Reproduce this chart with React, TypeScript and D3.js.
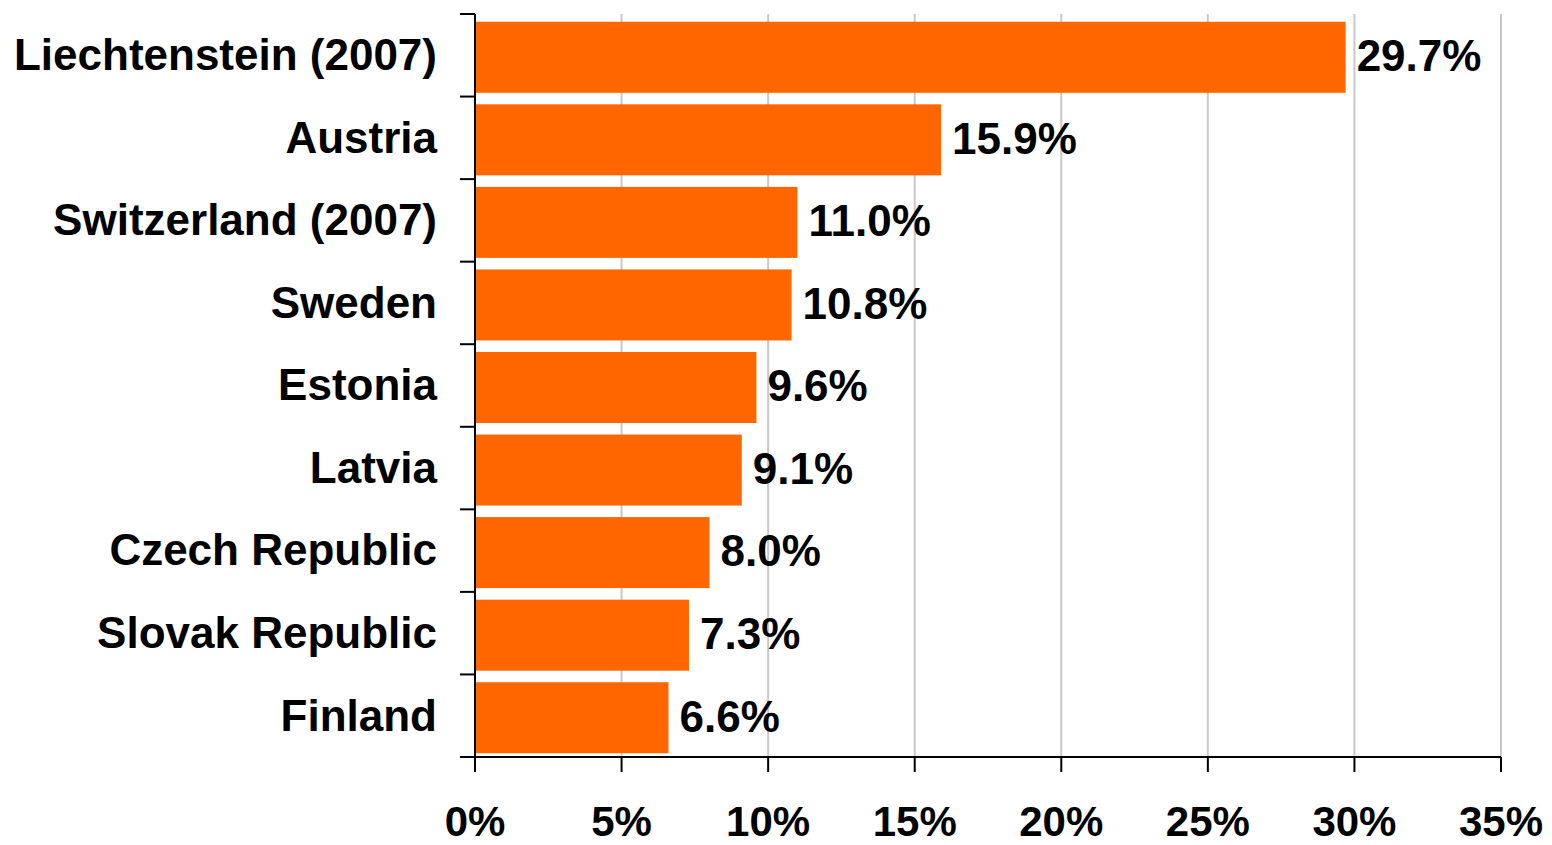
import React from "react";
import * as d3 from "d3";

const categories = [
  "Liechtenstein (2007)",
  "Austria",
  "Switzerland (2007)",
  "Sweden",
  "Estonia",
  "Latvia",
  "Czech Republic",
  "Slovak Republic",
  "Finland",
];
const values = [29.7, 15.9, 11.0, 10.8, 9.6, 9.1, 8.0, 7.3, 6.6];
const xTicks = [0, 5, 10, 15, 20, 25, 30, 35];

const W = 1552;
const H = 845;
const left = 475;
const right = 1501;
const top = 14;
const bottom = 757;
const font = "'Liberation Sans', Arial, sans-serif";

export default function App() {
  const x = d3.scaleLinear().domain([0, 35]).range([left, right]);
  const y = d3
    .scaleBand<string>()
    .domain(categories)
    .range([top, bottom])
    .paddingInner(0.14)
    .paddingOuter(0.07);
  const step = y.step();
  const boundaries = d3.range(categories.length + 1).map((i) => top + i * step);

  return (
    <svg
      width={W}
      height={H}
      style={{ position: "absolute", left: 0, top: 0, background: "#fff" }}
    >
      {xTicks
        .filter((t) => t > 0)
        .map((t) => (
          <line
            key={"g" + t}
            x1={x(t)}
            x2={x(t)}
            y1={top}
            y2={bottom}
            stroke="#c8c8c8"
            strokeWidth={2}
          />
        ))}
      {categories.map((c, i) => (
        <rect
          key={c}
          x={x(0)}
          y={(y(c) as number) + 2}
          width={x(values[i]) - x(0)}
          height={y.bandwidth()}
          fill="#FF6600"
        />
      ))}
      {categories.map((c, i) => (
        <text
          key={"v" + c}
          x={x(values[i]) + 11}
          y={(y(c) as number) + y.bandwidth() / 2}
          dy="0.36em"
          fontFamily={font}
          fontWeight="bold"
          fontSize={44}
          fill="#000"
        >
          {values[i].toFixed(1) + "%"}
        </text>
      ))}
      {categories.map((c) => (
        <text
          key={"c" + c}
          x={left - 38}
          y={(y(c) as number) + y.bandwidth() / 2 - 1}
          dy="0.36em"
          textAnchor="end"
          fontFamily={font}
          fontWeight="bold"
          fontSize={44}
          fill="#000"
        >
          {c}
        </text>
      ))}
      <line x1={left} x2={left} y1={top} y2={bottom} stroke="#000" strokeWidth={2} />
      <line x1={left} x2={right} y1={bottom} y2={bottom} stroke="#000" strokeWidth={2} />
      {boundaries.map((b, i) => (
        <line key={"yt" + i} x1={left - 15} x2={left} y1={b} y2={b} stroke="#000" strokeWidth={2} />
      ))}
      {xTicks.map((t) => (
        <g key={"xt" + t}>
          <line x1={x(t)} x2={x(t)} y1={bottom} y2={bottom + 15} stroke="#000" strokeWidth={2} />
          <text
            x={x(t)}
            y={836}
            textAnchor="middle"
            fontFamily={font}
            fontWeight="bold"
            fontSize={42}
            fill="#000"
          >
            {t + "%"}
          </text>
        </g>
      ))}
    </svg>
  );
}
